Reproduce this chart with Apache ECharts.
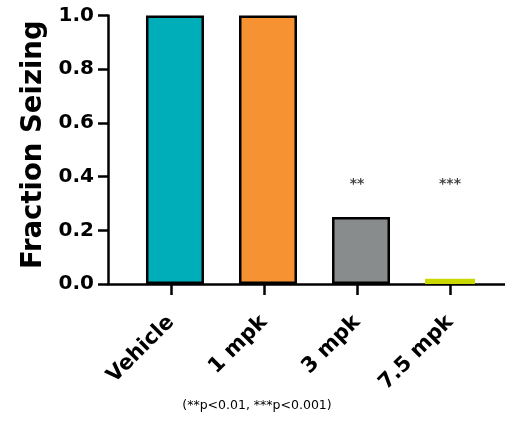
<!DOCTYPE html>
<html><head><meta charset="utf-8">
<script src="https://cdn.jsdelivr.net/npm/echarts@6/dist/echarts.min.js"></script>
<style>html,body{margin:0;padding:0;background:#fff}#c{width:505px;height:435px}</style>
</head><body><div id="c"></div>
<script>
const categories = ['Vehicle', '1 mpk', '3 mpk', '7.5 mpk'];
const fractionSeizing = [1.0, 1.0, 0.25, 0.02];
const barColors = ['#00AEBA', '#F79232', '#898C8C', '#C8D800'];
const significance = ['', '', '**', '***'];
const sigLevel = [0.37, 0.37, 0.37, 0.37];
const yTicks = [0, 0.2, 0.4, 0.6, 0.8, 1.0];
const footnote = '(**p<0.01, ***p<0.001)';

const idx = categories.map((_, i) => i);
const font = 'DejaVu Sans';
const chart = echarts.init(document.getElementById('c'));
chart.setOption({
  animation: false,
  grid: { left: 108, right: 0, top: 15.5, bottom: 151, containLabel: false },
  xAxis: {
    type: 'value', min: -0.677, max: 3.591,
    splitLine: { show: false },
    axisLine: { show: true, onZero: false, lineStyle: { color: '#000', width: 2.5 } },
    axisTick: { show: true, inside: false, customValues: idx, length: 11, lineStyle: { color: '#000', width: 2.5 } },
    axisLabel: {
      customValues: idx, rotate: 45, margin: 35,
      formatter: v => categories[Math.round(v)] || '',
      fontFamily: font, fontWeight: 'bold', fontSize: 21, color: '#000'
    }
  },
  yAxis: {
    type: 'value', min: 0, max: 1, interval: 0.2,
    name: 'Fraction Seizing', nameLocation: 'middle', nameGap: 60,
    nameTextStyle: { fontFamily: font, fontWeight: 'bold', fontSize: 27.5, color: '#000', padding: [0, 0, 0, 10] },
    splitLine: { show: false },
    axisLine: { show: true, onZero: false, lineStyle: { color: '#000', width: 2.5 } },
    axisTick: { show: true, inside: false, length: 10, lineStyle: { color: '#000', width: 2.5 } },
    axisLabel: {
      margin: 14, formatter: v => v.toFixed(1),
      fontFamily: font, fontWeight: 'bold', fontSize: 20, color: '#000'
    }
  },
  series: [
    {
      type: 'bar', barWidth: 58,
      data: idx.slice(0, 3).map(i => ({
        value: [i, fractionSeizing[i]],
        itemStyle: { color: barColors[i], borderColor: '#000', borderWidth: 2.5 }
      }))
    },
    {
      type: 'bar', barWidth: 50, barGap: '-100%',
      data: [{ value: [3, fractionSeizing[3]], itemStyle: { color: barColors[3] } }]
    },
    {
      type: 'scatter', symbolSize: 0,
      data: idx.filter(i => significance[i]).map(i => [i, sigLevel[i], significance[i]]),
      label: {
        show: true, position: 'inside', formatter: p => p.value[2],
        fontFamily: font, fontSize: 14, fontWeight: 'bold', color: '#111'
      }
    }
  ],
  graphic: [{
    type: 'text', x: 257, y: 406,
    style: { text: footnote, fontFamily: font, fontSize: 12.5, fill: '#000', textAlign: 'center', textVerticalAlign: 'middle' }
  }]
});
</script></body></html>
